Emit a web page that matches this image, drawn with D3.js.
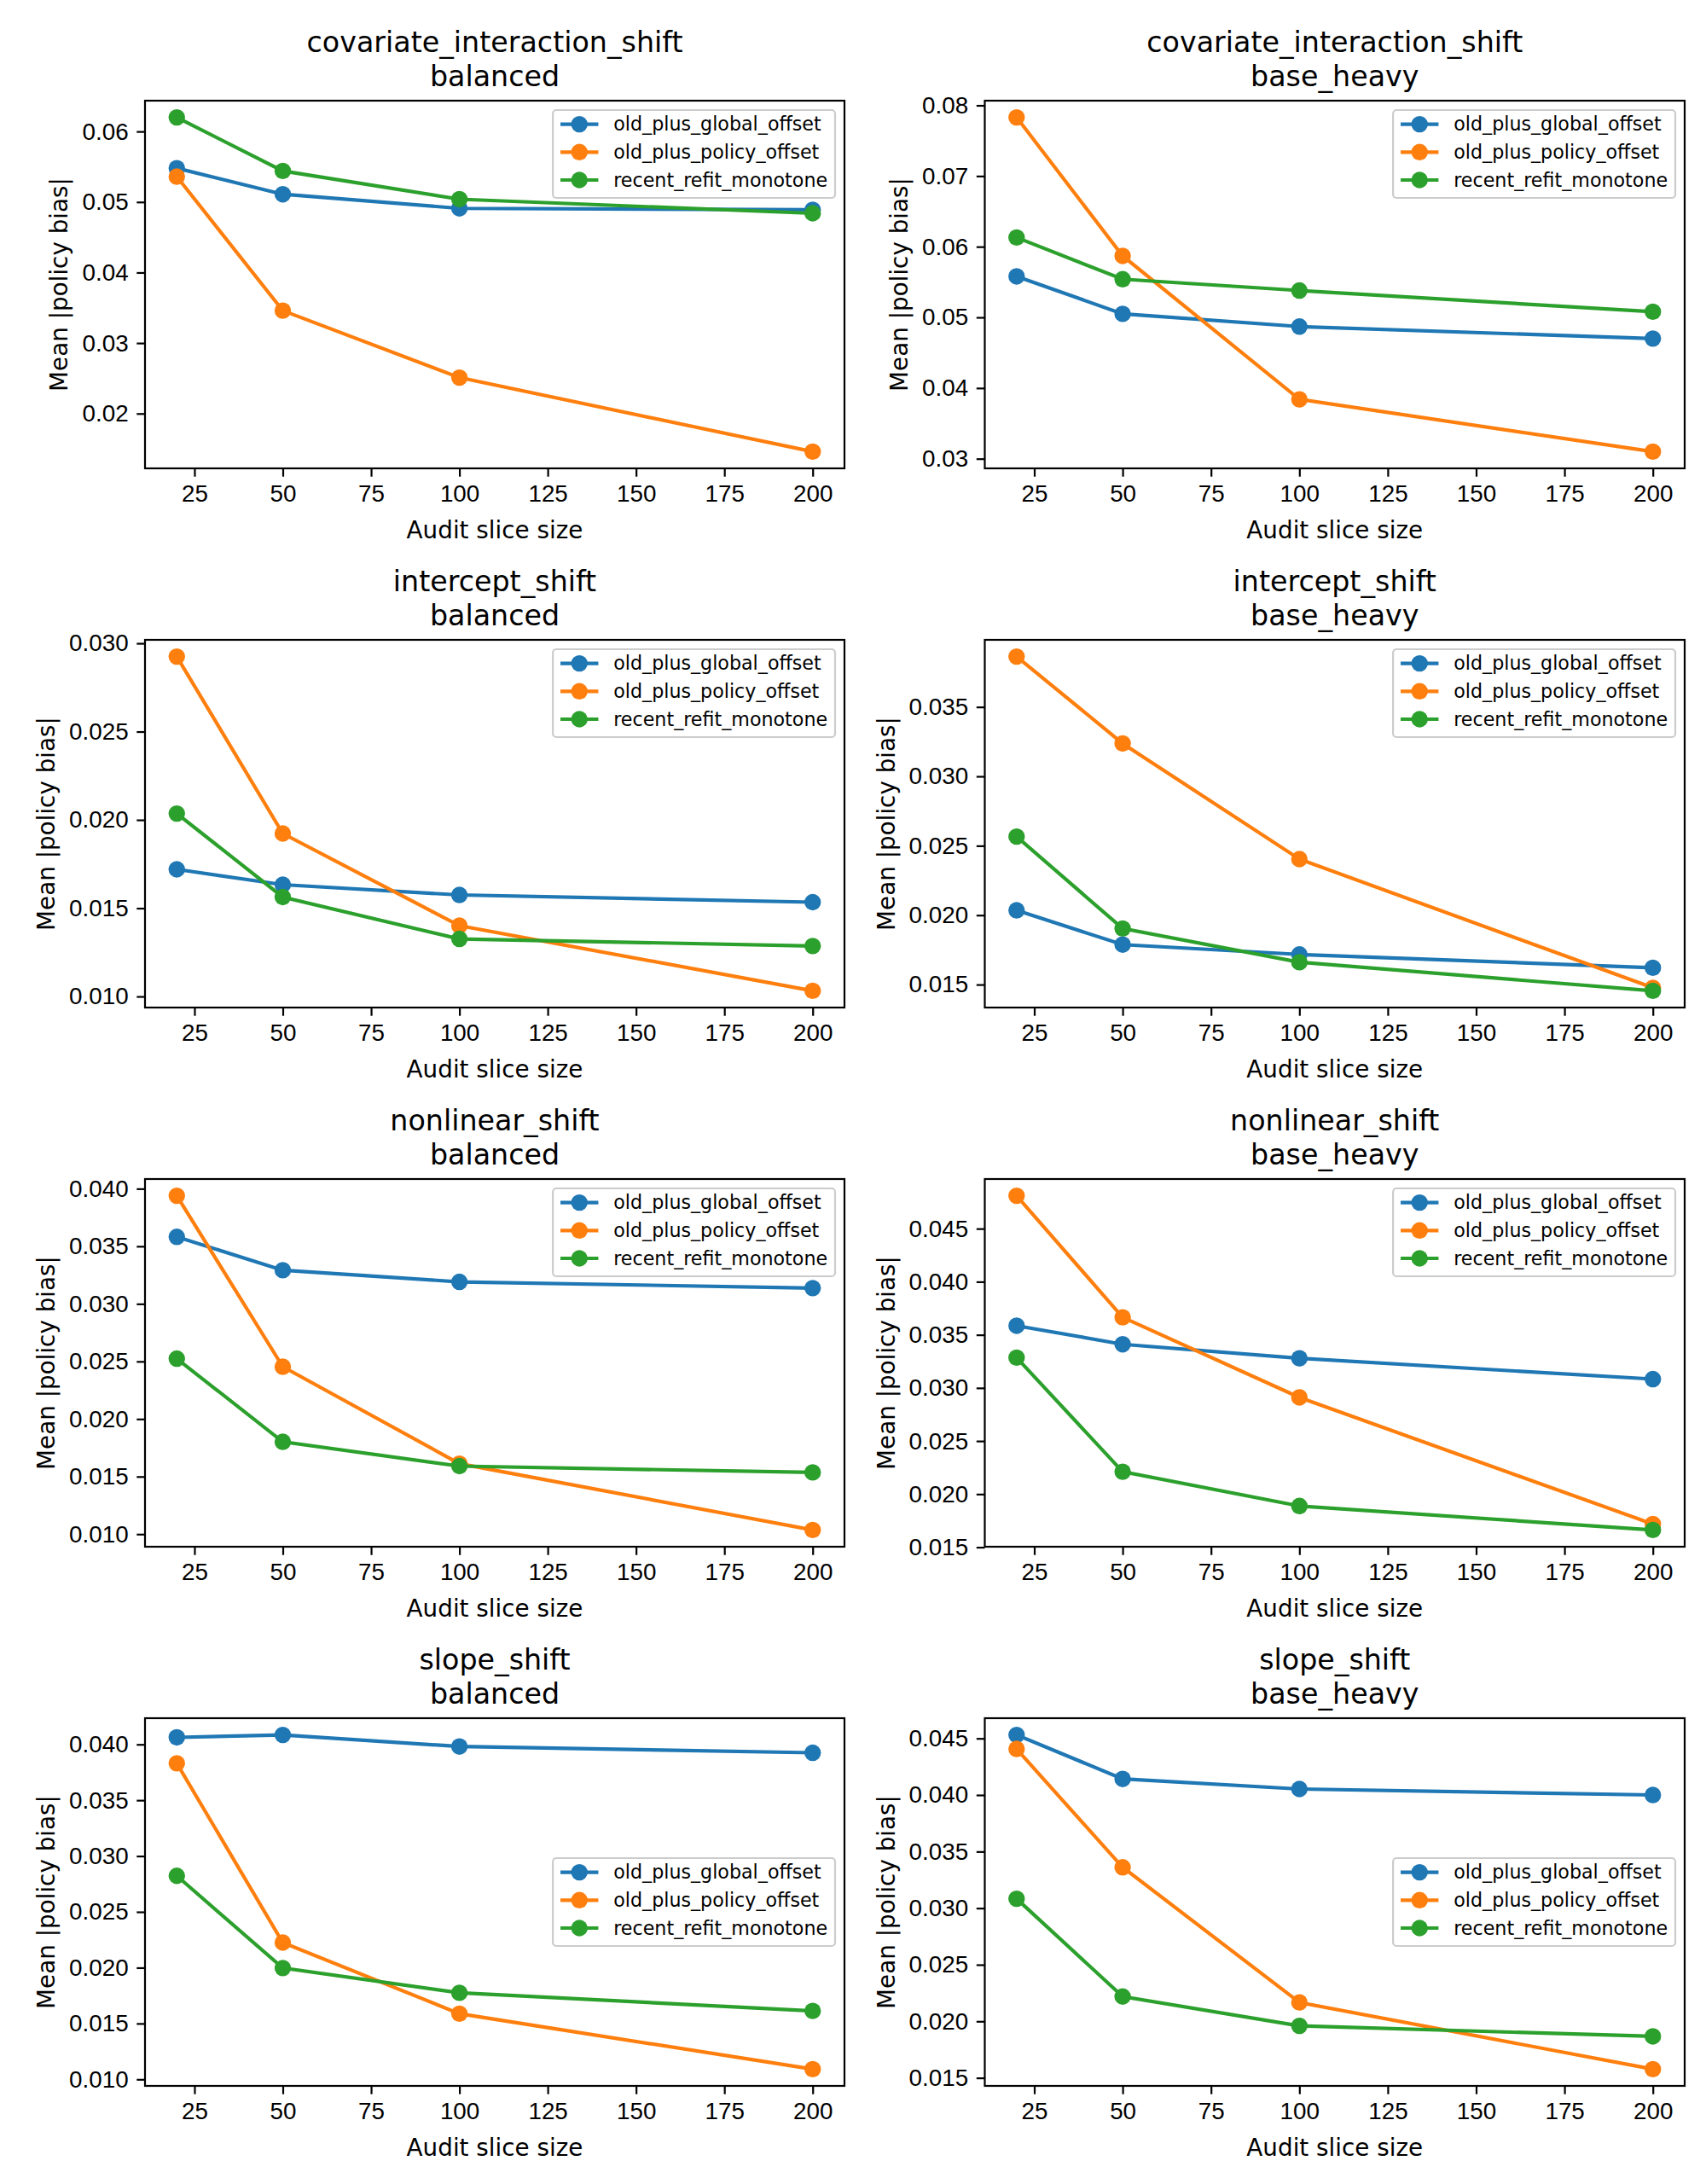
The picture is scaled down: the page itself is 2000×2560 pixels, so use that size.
<!DOCTYPE html>
<html>
<head>
<meta charset="utf-8">
<script src="https://cdn.jsdelivr.net/npm/d3@7"></script>
<style>
  body { margin: 0; background: #fff; }
  svg { display: block; font-family: "DejaVu Sans", sans-serif; }
</style>
</head>
<body>
<div id="chart"></div>
<script>
// Audit slice sizes on the x axis
const sizes = [20, 50, 100, 200];
const xTicks = [25, 50, 75, 100, 125, 150, 175, 200];

const methods = ['old_plus_global_offset', 'old_plus_policy_offset', 'recent_refit_monotone'];
const colors = ['#1f77b4', '#ff7f0e', '#2ca02c'];

const shifts = ['covariate_interaction_shift', 'intercept_shift', 'nonlinear_shift', 'slope_shift'];
const mixes = ['balanced', 'base_heavy'];

// Mean |policy bias| per method (global, policy, refit)
const covariateBalanced = [
  [0.0548, 0.0511, 0.0491, 0.0489],
  [0.0536, 0.0346, 0.0251, 0.0146],
  [0.0620, 0.0544, 0.0504, 0.0484]
];
const covariateBaseHeavy = [
  [0.0558, 0.0505, 0.0487, 0.0470],
  [0.0783, 0.0587, 0.0384, 0.0310],
  [0.0613, 0.0554, 0.0538, 0.0508]
];
const interceptBalanced = [
  [0.01720, 0.01633, 0.01575, 0.01534],
  [0.02925, 0.01923, 0.01401, 0.01032],
  [0.02036, 0.01563, 0.01326, 0.01286]
];
const interceptBaseHeavy = [
  [0.02035, 0.01788, 0.01717, 0.01621],
  [0.03863, 0.03237, 0.02404, 0.01477],
  [0.02566, 0.01904, 0.01661, 0.01455]
];
const nonlinearBalanced = [
  [0.03582, 0.03292, 0.03191, 0.03137],
  [0.03939, 0.02454, 0.01612, 0.01036],
  [0.02524, 0.01802, 0.01591, 0.01536]
];
const nonlinearBaseHeavy = [
  [0.03586, 0.03411, 0.03279, 0.03083],
  [0.04810, 0.03665, 0.02911, 0.01718],
  [0.03285, 0.02211, 0.01888, 0.01662]
];
const slopeBalanced = [
  [0.04063, 0.04085, 0.03981, 0.03925],
  [0.03831, 0.02225, 0.01588, 0.01091],
  [0.02823, 0.01997, 0.01775, 0.01613]
];
const slopeBaseHeavy = [
  [0.04531, 0.04142, 0.04053, 0.04000],
  [0.04407, 0.03361, 0.02167, 0.01577],
  [0.03083, 0.02219, 0.01960, 0.01867]
];

// y tick values per panel
const yTicksCovBal = [0.02, 0.03, 0.04, 0.05, 0.06];
const yTicksCovHeavy = [0.03, 0.04, 0.05, 0.06, 0.07, 0.08];
const yTicksIntBal = [0.010, 0.015, 0.020, 0.025, 0.030];
const yTicksIntHeavy = [0.015, 0.020, 0.025, 0.030, 0.035];
const yTicksNonBal = [0.010, 0.015, 0.020, 0.025, 0.030, 0.035, 0.040];
const yTicksNonHeavy = [0.015, 0.020, 0.025, 0.030, 0.035, 0.040, 0.045];
const yTicksSlopeBal = [0.010, 0.015, 0.020, 0.025, 0.030, 0.035, 0.040];
const yTicksSlopeHeavy = [0.015, 0.020, 0.025, 0.030, 0.035, 0.040, 0.045];

const panelData = [
  [covariateBalanced, covariateBaseHeavy],
  [interceptBalanced, interceptBaseHeavy],
  [nonlinearBalanced, nonlinearBaseHeavy],
  [slopeBalanced, slopeBaseHeavy]
];
const panelTicks = [
  [yTicksCovBal, yTicksCovHeavy],
  [yTicksIntBal, yTicksIntHeavy],
  [yTicksNonBal, yTicksNonHeavy],
  [yTicksSlopeBal, yTicksSlopeHeavy]
];

const W = 2000, H = 2560;
const svg = d3.select('#chart').append('svg')
  .attr('width', W)
  .attr('height', H);

// matplotlib sizes at 200 dpi
const tickFont = 27.8, titleFont = 33.3, legendFont = 22.2;
const tickLen = 9.7, tickPad = 9.7, spineW = 2.2;
const markerR = 9.7;
const colLeft = [170, 1154.5], colRight = [990, 1975];
const rowTop0 = 118, rowStep = 632, axH = 431;

function padded(ext) {
  const p = (ext[1] - ext[0]) * 0.05;
  return [ext[0] - p, ext[1] + p];
}

shifts.forEach((shift, r) => {
  mixes.forEach((mix, c) => {
    const series = panelData[r][c];
    const yTicks = panelTicks[r][c];
    const left = colLeft[c], right = colRight[c];
    const top = rowTop0 + r * rowStep, bottom = top + axH;

    const x = d3.scaleLinear()
      .domain(padded(d3.extent(sizes)))
      .range([left, right]);
    const y = d3.scaleLinear()
      .domain(padded(d3.extent(series.flat())))
      .range([bottom, top]);

    const g = svg.append('g');

    // x axis
    const xAxis = g.append('g')
      .attr('transform', `translate(0,${bottom})`)
      .call(d3.axisBottom(x).tickValues(xTicks).tickSize(tickLen).tickPadding(tickPad).tickFormat(d3.format('d')));
    xAxis.select('.domain').remove();
    xAxis.selectAll('line').attr('stroke', '#000').attr('stroke-width', spineW);
    xAxis.selectAll('text').attr('fill', '#000').style('font-size', tickFont + 'px');

    // y axis
    const step = +(yTicks[1] - yTicks[0]).toFixed(6);
    const yAxis = g.append('g')
      .attr('transform', `translate(${left},0)`)
      .call(d3.axisLeft(y).tickValues(yTicks).tickSize(tickLen).tickPadding(tickPad)
        .tickFormat(d3.format('.' + d3.precisionFixed(step) + 'f')));
    yAxis.select('.domain').remove();
    yAxis.selectAll('line').attr('stroke', '#000').attr('stroke-width', spineW);
    yAxis.selectAll('text').attr('fill', '#000').style('font-size', tickFont + 'px');

    // lines and markers
    const line = d3.line()
      .x((d, i) => x(sizes[i]))
      .y(d => y(d));
    series.forEach((vals, k) => {
      g.append('path')
        .datum(vals)
        .attr('d', line)
        .attr('fill', 'none')
        .attr('stroke', colors[k])
        .attr('stroke-width', 4.17);
      g.selectAll(null)
        .data(vals)
        .enter()
        .append('circle')
        .attr('cx', (d, i) => x(sizes[i]))
        .attr('cy', d => y(d))
        .attr('r', markerR)
        .attr('fill', colors[k]);
    });

    // axes frame
    g.append('rect')
      .attr('x', left)
      .attr('y', top)
      .attr('width', right - left)
      .attr('height', bottom - top)
      .attr('fill', 'none')
      .attr('stroke', '#000')
      .attr('stroke-width', spineW);

    // title (two lines)
    const cx = (left + right) / 2;
    g.append('text')
      .attr('x', cx)
      .attr('y', top - 16.7 - 40)
      .attr('text-anchor', 'middle')
      .style('font-size', titleFont + 'px')
      .text(shift);
    g.append('text')
      .attr('x', cx)
      .attr('y', top - 16.7)
      .attr('text-anchor', 'middle')
      .style('font-size', titleFont + 'px')
      .text(mix);

    // x label
    g.append('text')
      .attr('x', cx)
      .attr('y', bottom + 82)
      .attr('text-anchor', 'middle')
      .style('font-size', tickFont + 'px')
      .text('Audit slice size');

    // y label, placed left of the tick labels
    const yb = yAxis.node().getBBox();
    const ylx = yb.x + left - 17;
    g.append('text')
      .attr('transform', `translate(${ylx},${(top + bottom) / 2}) rotate(-90)`)
      .attr('text-anchor', 'middle')
      .style('font-size', tickFont + 'px')
      .text('Mean |policy bias|');

    // legend
    const leg = g.append('g');
    const texts = [];
    methods.forEach((m, k) => {
      texts.push(leg.append('text')
        .style('font-size', legendFont + 'px')
        .text(m));
    });
    const maxW = d3.max(texts, t => t.node().getComputedTextLength());
    const bp = 8.9, hl = 44.4, htp = 17.8, rowH = 32.7;
    const lw = bp + hl + htp + maxW + bp;
    const lh = 103;
    const lx = right - 11 - lw;
    const ly = r === 3 ? (top + bottom) / 2 - lh / 2 : top + 11;
    leg.attr('transform', `translate(${lx},${ly})`);
    leg.insert('rect', 'text')
      .attr('x', 0)
      .attr('y', 0)
      .attr('width', lw)
      .attr('height', lh)
      .attr('rx', 4)
      .attr('fill', '#fff')
      .attr('fill-opacity', 0.8)
      .attr('stroke', '#cccccc')
      .attr('stroke-width', 2.2);
    methods.forEach((m, k) => {
      const ry = 16.6 + k * rowH;
      leg.append('line')
        .attr('x1', bp)
        .attr('x2', bp + hl)
        .attr('y1', ry)
        .attr('y2', ry)
        .attr('stroke', colors[k])
        .attr('stroke-width', 4.17);
      leg.append('circle')
        .attr('cx', bp + hl / 2)
        .attr('cy', ry)
        .attr('r', markerR)
        .attr('fill', colors[k]);
      texts[k]
        .attr('x', bp + hl + htp)
        .attr('y', ry)
        .attr('dy', '0.35em');
    });
  });
});
</script>
</body>
</html>
